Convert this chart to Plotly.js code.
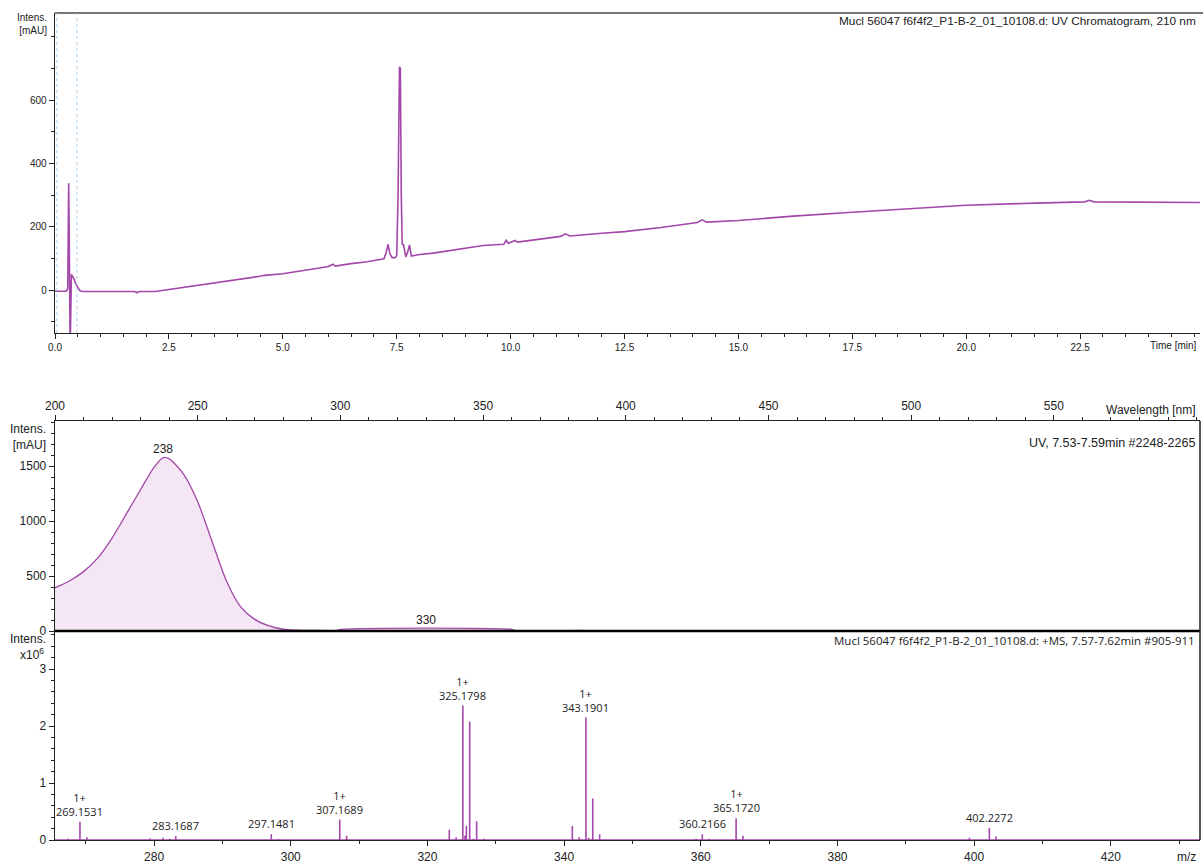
<!DOCTYPE html>
<html><head><meta charset="utf-8">
<script src="https://cdn.plot.ly/plotly-3.0.1.min.js"></script>
<style>body{margin:0;padding:0;background:#fff}#chart{width:1203px;height:863px}</style>
</head><body><div id="chart"></div>
<script>
// ---- UV chromatogram (210 nm) ----
var chromTime = [0, 0.25, 0.28, 0.29, 0.30, 0.31, 0.33, 0.34, 0.36, 0.38, 0.42, 0.46, 0.50, 0.55, 0.60, 1.75, 1.80, 1.85, 2.2, 2.5, 3.2, 3.9, 4.5, 4.6, 5.0, 5.7, 6.0, 6.1, 6.15, 6.5, 6.85, 7.22, 7.27, 7.31, 7.35, 7.40, 7.47, 7.50, 7.53, 7.56, 7.58, 7.60, 7.62, 7.65, 7.70, 7.75, 7.78, 7.82, 8.0, 8.3, 8.7, 9.0, 9.4, 9.85, 9.9, 9.95, 10.05, 10.1, 10.15, 10.6, 11.1, 11.2, 11.3, 12.0, 12.5, 13.3, 14.1, 14.2, 14.3, 15.0, 16.2, 17.5, 18.7, 20.0, 21.5, 22.6, 22.7, 22.8, 25.13];
var chromInt = [-3, -3, 5, 335, 338, 200, -135, -130, 50, 46, 35, 18, 8, -2, -4, -4, -8, -4, -4, 2, 17, 31, 44, 47, 52, 68, 75, 82, 76, 84, 90, 99, 120, 145, 115, 103, 103, 110, 300, 705, 700, 300, 145, 143, 105, 125, 143, 108, 113, 117, 126, 131, 141, 145, 158, 148, 153, 157, 152, 160, 170, 178, 171, 180, 185, 198, 214, 222, 215, 220, 234, 246, 257, 268, 275, 279, 284, 279, 277];
var markerTimes = [0.04, 0.48];
var chromXTicks = [0, 2.5, 5, 7.5, 10, 12.5, 15, 17.5, 20, 22.5];
var chromYTicks = [0, 200, 400, 600];

// ---- UV spectrum ----
var wavelength = [200, 205, 210, 215, 220, 225, 230, 235, 238, 240, 245, 250, 255, 260, 265, 270, 275, 280, 285, 290, 299, 300, 360, 361, 385];
var absorb = [393, 455, 540, 665, 845, 1065, 1287, 1500, 1577, 1565, 1428, 1175, 817, 460, 222, 106, 46, 16, 8, 6, 6, 15, 15, 6, 6];
var specXTicks = [200, 250, 300, 350, 400, 450, 500, 550];
var specLabels = [[238, '238'], [330, '330']];

// ---- MS spectrum ----
var mz = [266.4, 267.4, 269.15, 270.16, 279.4, 281.3, 282.3, 283.17, 284.2, 289.4, 297.15, 298.2, 305.2, 307.17, 308.17, 310.1, 323.2, 324.2, 325.18, 325.5, 325.7, 326.18, 326.7, 327.2, 328.3, 341.2, 342.2, 343.19, 343.6, 344.19, 345.2, 357.2, 359.3, 360.22, 361.2, 365.17, 366.17, 367.2, 370.2, 371.2, 371.7, 381.1, 383.2, 399.3, 402.23, 403.2];
var msInt = [0.01, 0.02, 0.32, 0.05, 0.03, 0.04, 0.02, 0.07, 0.01, 0.01, 0.1, 0.02, 0.01, 0.36, 0.075, 0.015, 0.18, 0.05, 2.36, 0.08, 0.25, 2.08, 0.02, 0.33, 0.02, 0.245, 0.05, 2.15, 0.04, 0.73, 0.1, 0.01, 0.02, 0.1, 0.02, 0.38, 0.075, 0.015, 0.01, 0.01, 0.01, 0.01, 0.01, 0.04, 0.21, 0.06];
var msLabelMz = [269.1531, 283.1687, 297.1481, 307.1689, 325.1798, 343.1901, 360.2166, 365.1720, 402.2272];
var msLabelY = [0.32, 0.07, 0.1, 0.36, 2.36, 2.15, 0.1, 0.38, 0.21];
var msLabelCharge = ['1+', '', '', '1+', '1+', '1+', '', '1+', ''];

var PURPLE = '#a347a9';
var msRange = [265.5, 433.05];

// pixel helpers (plot area: x 55..1200, y 13..840)
function X(px) { return (px - 55) / 1145; }
function Y(py) { return (840 - py) / 827; }

// MS sticks path built from the arrays
var msX = [msRange[0]], msY = [0];
for (var i = 0; i < mz.length; i++) {
  msX.push(mz[i], mz[i], mz[i]); msY.push(0, msInt[i], 0);
}
msX.push(msRange[1]); msY.push(0);

var traces = [
  {x: chromTime, y: chromInt, xaxis: 'x', yaxis: 'y', type: 'scatter', mode: 'lines',
   line: {color: PURPLE, width: 1.6}, hoverinfo: 'skip'},
  {x: wavelength, y: absorb, xaxis: 'x2', yaxis: 'y2', type: 'scatter', mode: 'lines',
   fill: 'tozeroy', fillcolor: '#f4e6f4', line: {color: PURPLE, width: 1.3, shape: 'spline', smoothing: 0.8}, hoverinfo: 'skip'},
  {x: msX, y: msY, xaxis: 'x3', yaxis: 'y3', type: 'scatter', mode: 'lines',
   line: {color: PURPLE, width: 1.6}, hoverinfo: 'skip'}
];

function axisBase(extra) {
  var a = {showgrid: false, zeroline: false, showline: true, linecolor: '#222', linewidth: 1.3,
    ticks: 'outside', ticklen: 5, tickwidth: 1, tickcolor: '#222',
    tickfont: {family: 'Liberation Sans, Arial, sans-serif', size: 12, color: '#222'}};
  for (var k in extra) a[k] = extra[k];
  return a;
}

var annotations = [
  {text: 'Intens.<br>[mAU]', x: X(49), y: Y(24), xref: 'paper', yref: 'paper', xanchor: 'right', yanchor: 'middle', align: 'right', showarrow: false, font: {size: 10}},
  {text: 'Mucl 56047 f6f4f2_P1-B-2_01_10108.d: UV Chromatogram, 210 nm', x: X(1198), y: Y(21), xref: 'paper', yref: 'paper', xanchor: 'right', yanchor: 'middle', showarrow: false, font: {size: 11.8}},
  {text: 'Time [min]', x: X(1199), y: Y(345), xref: 'paper', yref: 'paper', xanchor: 'right', yanchor: 'middle', showarrow: false, font: {size: 10}},
  {text: 'Wavelength [nm]', x: X(1198), y: Y(410), xref: 'paper', yref: 'paper', xanchor: 'right', yanchor: 'middle', showarrow: false, font: {size: 12}},
  {text: 'Intens.<br>[mAU]', x: X(48), y: Y(437), xref: 'paper', yref: 'paper', xanchor: 'right', yanchor: 'middle', align: 'right', showarrow: false, font: {size: 12}},
  {text: 'UV, 7.53-7.59min #2248-2265', x: X(1197), y: Y(443), xref: 'paper', yref: 'paper', xanchor: 'right', yanchor: 'middle', showarrow: false, font: {size: 12.5}},
  {text: 'Intens.', x: X(48), y: Y(639), xref: 'paper', yref: 'paper', xanchor: 'right', yanchor: 'middle', showarrow: false, font: {size: 12}},
  {text: 'x10<sup>6</sup>', x: X(46), y: Y(654), xref: 'paper', yref: 'paper', xanchor: 'right', yanchor: 'middle', showarrow: false, font: {size: 12}},
  {text: 'Mucl 56047 f6f4f2_P1-B-2_01_10108.d: +MS, 7.57-7.62min #905-911', x: X(1197), y: Y(640), xref: 'paper', yref: 'paper', xanchor: 'right', yanchor: 'middle', showarrow: false, font: {family: 'Open Sans, sans-serif', size: 11.5}},
  {text: 'm/z', x: X(1198), y: Y(857), xref: 'paper', yref: 'paper', xanchor: 'right', yanchor: 'middle', showarrow: false, font: {size: 12}}
];
specLabels.forEach(function (s) {
  var idx = wavelength.indexOf(s[0]);
  var yv = idx >= 0 ? absorb[idx] : 15;
  annotations.push({text: s[1], x: s[0], y: yv, xref: 'x2', yref: 'y2', yanchor: 'bottom', showarrow: false, yshift: 0, font: {size: 12}});
});
msLabelMz.forEach(function (m, i) {
  var t = (msLabelCharge[i] ? msLabelCharge[i] + '<br>' : '') + m.toFixed(4);
  annotations.push({text: t, x: m, y: msLabelY[i], xref: 'x3', yref: 'y3', yanchor: 'bottom', showarrow: false, yshift: 1,
    font: {family: 'Open Sans, sans-serif', size: 11}});
});

var shapes = [
  {type: 'line', xref: 'paper', yref: 'paper', x0: 0, x1: 1.0027, y0: 1, y1: 1, line: {color: '#777', width: 2}},
  {type: 'line', xref: 'paper', yref: 'paper', x0: 0, x1: 1, y0: Y(631), y1: Y(631), line: {color: '#000', width: 2.5}},
  {type: 'line', xref: 'paper', yref: 'paper', x0: 1, x1: 1, y0: Y(840), y1: Y(421), line: {color: '#222', width: 1.5}}
];
markerTimes.forEach(function (t) {
  shapes.push({type: 'line', xref: 'x', yref: 'y domain', x0: t, x1: t, y0: 0, y1: 1, line: {color: '#a9cff5', width: 1, dash: 'dot'}});
});

var layout = {
  width: 1203, height: 863,
  margin: {l: 55, r: 3, t: 13, b: 23},
  showlegend: false,
  paper_bgcolor: '#fff', plot_bgcolor: 'rgba(0,0,0,0)',
  font: {family: 'Liberation Sans, Arial, sans-serif', size: 11, color: '#222'},
  xaxis: axisBase({domain: [0, 1], anchor: 'y', range: [0, 25.13], tickmode: 'array', tickvals: chromXTicks,
    ticktext: chromXTicks.map(function (v) { return v.toFixed(1); }),
    tickfont: {family: 'Liberation Sans, Arial, sans-serif', size: 10, color: '#222'},
    minor: {tickmode: 'linear', tick0: 0, dtick: 0.5, ticklen: 3, tickcolor: '#222', ticks: 'outside'}}),
  yaxis: axisBase({domain: [Y(333), 1], anchor: 'x', range: [-135, 875], tickmode: 'array', tickvals: chromYTicks,
    tickfont: {family: 'Liberation Sans, Arial, sans-serif', size: 10, color: '#222'},
    minor: {tickmode: 'linear', tick0: 0, dtick: 100, ticklen: 3, tickcolor: '#222', ticks: 'outside'}}),
  xaxis2: axisBase({domain: [0, 1], anchor: 'y2', side: 'top', range: [200, 601.2], tickmode: 'array', tickvals: specXTicks,
    minor: {tickmode: 'linear', tick0: 200, dtick: 10, ticklen: 3, tickcolor: '#222', ticks: 'outside'}}),
  yaxis2: axisBase({domain: [Y(631), Y(421)], anchor: 'x2', range: [0, 1910], dtick: 500, tick0: 0,
    minor: {dtick: 100, ticklen: 3, tickcolor: '#222', ticks: 'outside'}}),
  xaxis3: axisBase({domain: [0, 1], anchor: 'y3', range: msRange, dtick: 20, tick0: 0,
    minor: {dtick: 10, ticklen: 3, tickcolor: '#222', ticks: 'outside'}}),
  yaxis3: axisBase({domain: [0, Y(631)], anchor: 'x3', range: [0, 3.67], dtick: 1, tick0: 0,
    minor: {dtick: 0.2, ticklen: 3, tickcolor: '#222', ticks: 'outside'}}),
  annotations: annotations,
  shapes: shapes
};

Plotly.newPlot('chart', traces, layout, {displayModeBar: false, staticPlot: true});
</script>
</body></html>
